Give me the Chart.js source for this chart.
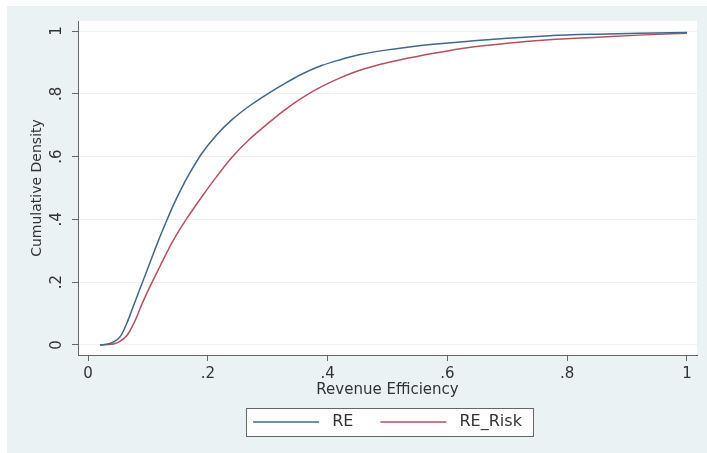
<!DOCTYPE html>
<html>
<head>
<meta charset="utf-8">
<script src="https://cdn.jsdelivr.net/npm/chart.js@4.4.0/dist/chart.umd.min.js"></script>
<style>
  html, body { margin: 0; padding: 0; background: #fff; }
  #wrap { width: 707px; height: 453px; }
</style>
</head>
<body>
<div id="wrap"><canvas id="grafico"></canvas></div>
<script>
// --- datos ---
const reX = [0.02, 0.035, 0.045, 0.055, 0.065, 0.075, 0.085, 0.095, 0.107, 0.117, 0.13, 0.142, 0.155, 0.17, 0.19, 0.215, 0.24, 0.27, 0.3, 0.326, 0.354, 0.39, 0.42, 0.454, 0.5, 0.576, 0.65, 0.7, 0.77, 0.85, 0.92, 1.0];
const reY = [0, 0.004, 0.012, 0.03, 0.07, 0.12, 0.17, 0.22, 0.28, 0.33, 0.39, 0.443, 0.495, 0.548, 0.61, 0.67, 0.717, 0.762, 0.8, 0.83, 0.86, 0.89, 0.908, 0.925, 0.94, 0.958, 0.97, 0.977, 0.985, 0.99, 0.993, 0.995];

const riskX = [0.02, 0.04, 0.05, 0.065, 0.078, 0.09, 0.107, 0.12, 0.14, 0.165, 0.19, 0.215, 0.24, 0.27, 0.3, 0.326, 0.354, 0.382, 0.42, 0.449, 0.49, 0.52, 0.58, 0.633, 0.7, 0.77, 0.85, 0.92, 1.0];
const riskY = [0, 0.002, 0.008, 0.03, 0.075, 0.13, 0.2, 0.25, 0.325, 0.403, 0.472, 0.537, 0.597, 0.656, 0.705, 0.745, 0.783, 0.815, 0.85, 0.872, 0.895, 0.908, 0.93, 0.947, 0.961, 0.972, 0.98, 0.987, 0.993];

const tickValues = [0, 0.2, 0.4, 0.6, 0.8, 1];
const tickLabels = ['0', '.2', '.4', '.6', '.8', '1'];

const fuente = 'DejaVu Sans';
const colorRE = '#42678a';
const colorRisk = '#b3525e';

// fondo estilo stata + caja de la leyenda
const fondoPlugin = {
    id: 'fondo',
    beforeDraw(chart) {
        const ctx = chart.ctx;
        const a = chart.chartArea;
        ctx.save();
        ctx.fillStyle = '#ffffff';
        ctx.fillRect(0, 0, chart.width, chart.height);
        ctx.fillStyle = '#eaf2f3';
        ctx.fillRect(7, 6, chart.width - 7, chart.height - 6);
        ctx.fillStyle = '#ffffff';
        ctx.fillRect(a.left, a.top, a.right - a.left, a.bottom - a.top);

        const cajas = chart.legend.legendHitBoxes;
        if (cajas && cajas.length) {
            const ultima = cajas[cajas.length - 1];
            const izq = cajas[0].left - 7;
            const der = ultima.left + ultima.width + 11;
            const cy = cajas[0].top + cajas[0].height / 2;
            ctx.fillStyle = '#ffffff';
            ctx.fillRect(izq, cy - 14, der - izq, 28);
            ctx.strokeStyle = '#666';
            ctx.lineWidth = 1;
            ctx.strokeRect(Math.round(izq) + 0.5, Math.round(cy - 14) + 0.5, Math.round(der - izq), 28);
        }
        ctx.restore();
    }
};

function puntos(xs, ys) {
    return xs.map((x, i) => ({ x: x, y: ys[i] }));
}

new Chart(document.getElementById('grafico'), {
    type: 'line',
    data: {
        datasets: [
            { label: 'RE', data: puntos(reX, reY), borderColor: colorRE, backgroundColor: colorRE, borderWidth: 1.5, pointRadius: 0, cubicInterpolationMode: 'monotone' },
            { label: 'RE_Risk', data: puntos(riskX, riskY), borderColor: colorRisk, backgroundColor: colorRisk, borderWidth: 1.5, pointRadius: 0, cubicInterpolationMode: 'monotone' }
        ]
    },
    options: {
        responsive: true, maintainAspectRatio: false, animation: false,
        layout: { padding: { top: 21, left: 7, right: 10, bottom: 13 } },
        plugins: {
            tooltip: { enabled: false },
            legend: {
                position: 'bottom', fullSize: false,
                labels: {
                    usePointStyle: true, pointStyle: 'line', pointStyleWidth: 66, boxHeight: 16,
                    padding: 27, color: '#333', font: { family: fuente, size: 16 },
                    // un espacio delante para separar la muestra del texto como en stata
                    generateLabels: chart => Chart.defaults.plugins.legend.labels.generateLabels(chart).map(l => ({ ...l, text: ' ' + l.text }))
                }
            }
        },
        scales: {
            x: {
                type: 'linear', min: -0.0167, max: 1.0167,
                afterBuildTicks: s => { s.ticks = tickValues.map(v => ({ value: v })); },
                afterFit: s => { s.height = 32; },
                ticks: { callback: (v, i) => tickLabels[i], padding: 4, color: '#333', font: { family: fuente, size: 15 }, maxRotation: 0 },
                grid: { drawOnChartArea: false, tickLength: 6, tickColor: '#666' },
                border: { color: '#666', width: 1 },
                title: { display: true, text: 'Revenue Efficiency', color: '#333', font: { family: fuente, size: 15 }, padding: { top: 0, bottom: -12 } }
            },
            y: {
                type: 'linear', min: -0.032, max: 1.032,
                afterBuildTicks: s => { s.ticks = tickValues.map(v => ({ value: v })); },
                afterFit: s => { s.width = 71; },
                ticks: { callback: (v, i) => tickLabels[i], minRotation: 90, maxRotation: 90, crossAlign: 'center', padding: 8, color: '#333', font: { family: fuente, size: 15 } },
                grid: { color: '#edf1f2', tickLength: 6, tickColor: '#666' },
                border: { color: '#666', width: 1 },
                title: { display: true, text: 'Cumulative Density', color: '#333', font: { family: fuente, size: 14 }, padding: { top: 22, bottom: 0 } }
            }
        }
    },
    plugins: [fondoPlugin]
});
</script>
</body>
</html>
